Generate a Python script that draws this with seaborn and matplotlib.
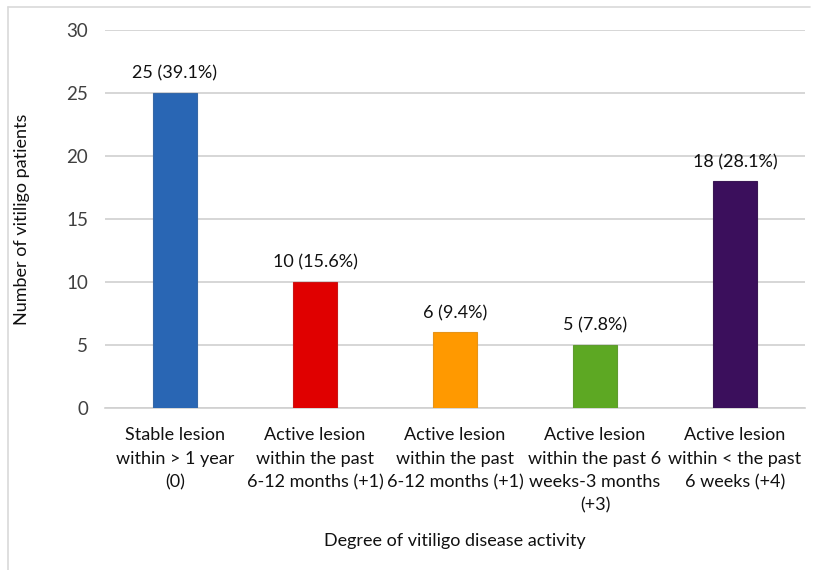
import matplotlib
matplotlib.use("Agg")
import matplotlib.pyplot as plt
import seaborn as sns
import pandas as pd
from matplotlib.lines import Line2D

categories = [
    "Stable lesion\nwithin > 1 year\n(0)",
    "Active lesion\nwithin the past\n6-12 months (+1)",
    "Active lesion\nwithin the past\n6-12 months (+1)",
    "Active lesion\nwithin the past 6\nweeks-3 months\n(+3)",
    "Active lesion\nwithin < the past\n6 weeks (+4)",
]
counts = [25, 10, 6, 5, 18]
bar_labels = ["25 (39.1%)", "10 (15.6%)", "6 (9.4%)", "5 (7.8%)", "18 (28.1%)"]
colors = ["#2966B4", "#E00000", "#FF9900", "#5DA823", "#3B0F5C"]
y_ticks = [0, 5, 10, 15, 20, 25, 30]

sns.set_theme(style="white")
plt.rcParams["font.family"] = ["Lato", "DejaVu Sans"]

df = pd.DataFrame({"cat": [f"c{i}" for i in range(len(categories))], "n": counts})

fig = plt.figure(figsize=(8.19, 5.70), dpi=100)
ax = fig.add_axes([105/819, 1-408/570, 700/819, 378/570])

sns.barplot(data=df, x="cat", y="n", hue="cat", palette=colors, legend=False,
            width=0.315, ax=ax, linewidth=0.8, edgecolor="none", zorder=3,
            saturation=1)
for p, c in zip(ax.patches, colors):
    p.set_edgecolor(sns.desaturate(c, 0.8))

fs = 13
ax.set_ylim(0, 30)
ax.set_yticks(y_ticks)
ax.set_yticklabels([str(t) for t in y_ticks], fontsize=fs + 0.5, color="#404040")
ax.set_xticks(range(len(categories)))
ax.set_xticklabels(categories, fontsize=fs, color="#111111", linespacing=1.55)
ax.tick_params(axis="y", length=0, pad=12)
ax.tick_params(axis="x", length=0, pad=14)
ax.yaxis.grid(True, color="#D0D0D0", linewidth=1.2, zorder=0)
ax.set_axisbelow(True)
for s in ["top", "right", "left"]:
    ax.spines[s].set_visible(False)
ax.spines["bottom"].set_color("#D0D0D0")
ax.spines["bottom"].set_linewidth(1.2)

for i, (v, lab) in enumerate(zip(counts, bar_labels)):
    ax.annotate(lab, (i, v), xytext=(0, 8), textcoords="offset points",
                ha="center", va="bottom", fontsize=fs, color="#111111")

ax.set_xlabel("Degree of vitiligo disease activity", fontsize=fs, labelpad=14,
              color="#111111")
ax.set_ylabel("Number of vitiligo patients", fontsize=fs, labelpad=26,
              color="#111111")

# outer chart-area border (top and left visible)
fig.add_artist(Line2D([8/819, 810/819], [1-7/570, 1-7/570], color="#D9D9D9", lw=1.2,
                      transform=fig.transFigure))
fig.add_artist(Line2D([8/819, 8/819], [1-7/570, 0], color="#D9D9D9", lw=1.2,
                      transform=fig.transFigure))

fig.savefig("out.png", dpi=100)
